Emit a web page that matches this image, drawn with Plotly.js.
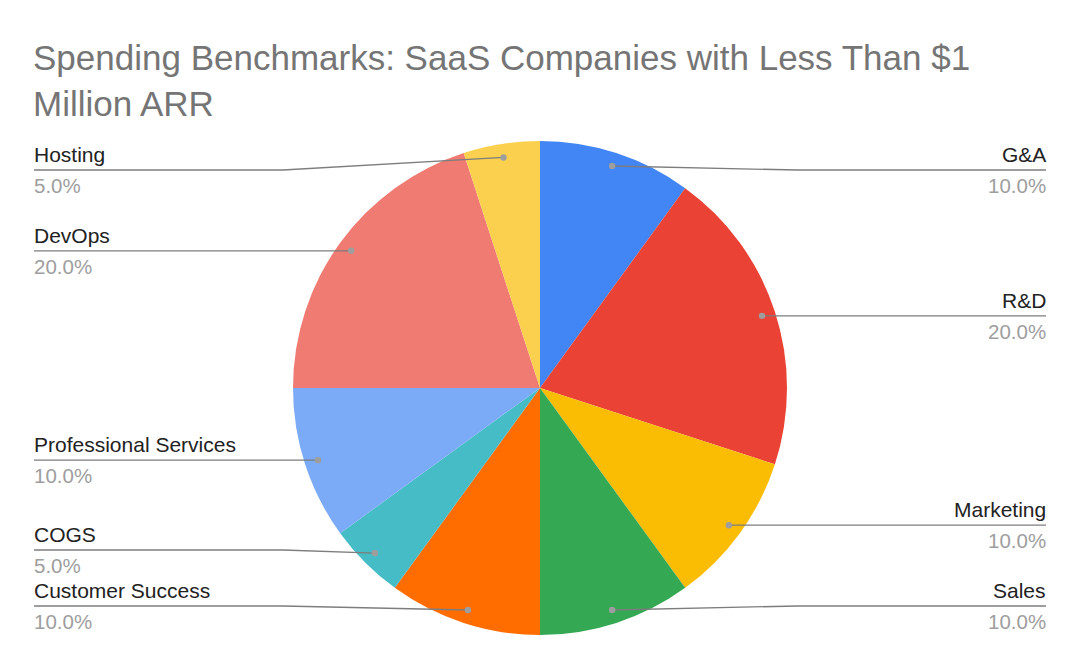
<!DOCTYPE html>
<html>
<head>
<meta charset="utf-8">
<script src="https://cdn.plot.ly/plotly-3.0.1.min.js"></script>
<style>
  html, body { margin: 0; padding: 0; background: #fff; }
  #chart { width: 1080px; height: 668px; }
</style>
</head>
<body>
<div id="chart"></div>
<script>
// spending shares, clockwise from 12 o'clock
const categories = ['G&A', 'R&D', 'Marketing', 'Sales', 'Customer Success', 'COGS',
  'Professional Services', 'DevOps', 'Hosting'];
const shares = [10, 20, 10, 10, 10, 5, 10, 20, 5];
const sliceColors = ['#4285F4', '#EA4335', '#FBBC04', '#34A853', '#FF6D01', '#46BDC6',
  '#7BAAF7', '#F07B72', '#FCD04F'];

const W = 1080, H = 668;
const cx = 540, cy = 388, R = 247;   // pie centre / radius in px
const px = x => x / W;
const py = y => 1 - y / H;
const FONT = '"Liberation Sans", Arial, sans-serif';

// work out where each leader line starts (dot) and where its label row sits
const total = shares.reduce((a, b) => a + b, 0);
let acc = 0;
const items = shares.map((v, i) => {
  const mid = (acc + v / 2) / total * 2 * Math.PI;
  acc += v;
  const dx = Math.sin(mid), dy = -Math.cos(mid);
  return {
    i, side: dx >= 0 ? 'right' : 'left',
    dotX: cx + dx * R * 0.945,
    dotY: cy + dy * R * 0.945
  };
});

const gap = 56, yMin = 170, yMax = 606;
['left', 'right'].forEach(side => {
  const list = items.filter(d => d.side === side).sort((a, b) => a.dotY - b.dotY);
  list.forEach(d => { d.rowY = Math.min(yMax, Math.max(yMin, d.dotY)); });
  for (let k = list.length - 2; k >= 0; k--)
    list[k].rowY = Math.min(list[k].rowY, list[k + 1].rowY - gap);
  for (let k = 1; k < list.length; k++)
    list[k].rowY = Math.max(list[k].rowY, list[k - 1].rowY + gap);
});

const shapes = [];
const annotations = [];
const lineStyle = { color: '#7d7d7d', width: 1.3 };
items.forEach(d => {
  const left = d.side === 'left';
  const elbowX = left ? cx - R - 10 : cx + R + 10;
  const edgeX = left ? 34 : 1046;
  const textX = left ? edgeX - 2 : edgeX + 2;   // annotations carry ~2px padding
  shapes.push({ type: 'line', xref: 'paper', yref: 'paper',
    x0: px(d.dotX), y0: py(d.dotY), x1: px(elbowX), y1: py(d.rowY), line: lineStyle });
  shapes.push({ type: 'line', xref: 'paper', yref: 'paper',
    x0: px(elbowX), y0: py(d.rowY), x1: px(edgeX), y1: py(d.rowY), line: lineStyle });
  shapes.push({ type: 'circle', xref: 'paper', yref: 'paper',
    x0: px(d.dotX - 3.2), x1: px(d.dotX + 3.2), y0: py(d.dotY + 3.2), y1: py(d.dotY - 3.2),
    fillcolor: '#9e9e9e', line: { width: 0 } });
  annotations.push({ xref: 'paper', yref: 'paper', x: px(textX), y: py(d.rowY - 2),
    xanchor: left ? 'left' : 'right', yanchor: 'bottom', showarrow: false,
    text: categories[d.i], font: { family: FONT, size: 21, color: '#222222' } });
  annotations.push({ xref: 'paper', yref: 'paper', x: px(textX), y: py(d.rowY + 2),
    xanchor: left ? 'left' : 'right', yanchor: 'top', showarrow: false,
    text: (shares[d.i] / total * 100).toFixed(1) + '%',
    font: { family: FONT, size: 20.5, color: '#9e9e9e' } });
});

const trace = {
  type: 'pie',
  labels: categories,
  values: shares,
  sort: false,
  direction: 'clockwise',
  rotation: 0,
  marker: { colors: sliceColors, line: { width: 0 } },
  textinfo: 'none',
  hoverinfo: 'label+percent',
  showlegend: false,
  domain: { x: [px(cx - R), px(cx + R)], y: [py(cy + R), py(cy - R)] }
};

const layout = {
  width: W, height: H,
  margin: { t: 0, b: 0, l: 0, r: 0 },
  paper_bgcolor: '#ffffff',
  title: {
    text: 'Spending Benchmarks: SaaS Companies with Less Than $1<br>Million ARR',
    x: px(33), xanchor: 'left', xref: 'paper',
    y: 1 - 70 / H, yanchor: 'top', yref: 'container',
    font: { family: FONT, size: 35, color: '#757575' }
  },
  shapes, annotations
};

Plotly.newPlot('chart', [trace], layout, { displayModeBar: false, staticPlot: true });
</script>
</body>
</html>
